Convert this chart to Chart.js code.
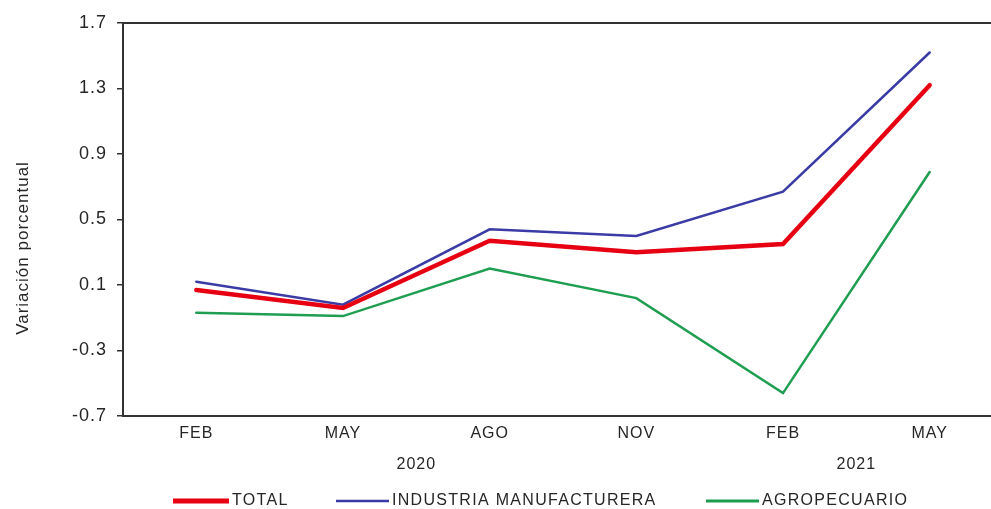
<!DOCTYPE html>
<html>
<head>
<meta charset="utf-8">
<script src="https://cdn.jsdelivr.net/npm/chart.js@4/dist/chart.umd.min.js"></script>
<style>
    html, body { margin: 0; padding: 0; background: #fff; overflow: hidden; }
    #wrap { width: 1010px; height: 509px; }
</style>
</head>
<body>
<div id="wrap"><canvas id="grafico" width="1010" height="509"></canvas></div>
<script>
const meses = ["FEB", "MAY", "AGO", "NOV", "FEB", "MAY"];
const anios = ["2020", "2021"];
const total = [0.07, -0.04, 0.37, 0.30, 0.35, 1.32];
const industria = [0.12, -0.02, 0.44, 0.40, 0.67, 1.52];
const agro = [-0.07, -0.09, 0.20, 0.02, -0.56, 0.79];

const ROJO = "#e60012";
const AZUL = "#3b3ba6";
const VERDE = "#1f9e52";
const TEXTO = "#262626";

// texto extra: titulo del eje, años y leyenda
const extras = {
    id: "extras",
    beforeDraw(chart) {
        chart.ctx.letterSpacing = "1px";
    },
    afterDraw(chart) {
        const ctx = chart.ctx;
        const area = chart.chartArea;
        const x = chart.scales.x;

        ctx.save();
        ctx.strokeStyle = "#333";
        ctx.lineWidth = 2;
        ctx.beginPath();
        ctx.moveTo(area.left, area.top);
        ctx.lineTo(area.right, area.top);
        ctx.stroke();

        ctx.fillStyle = TEXTO;
        ctx.font = "16px Arial, 'Liberation Sans'";
        ctx.textAlign = "center";
        ctx.textBaseline = "middle";
        const x2020 = (x.getPixelForTick(1) + x.getPixelForTick(2)) / 2;
        const x2021 = (x.getPixelForTick(4) + x.getPixelForTick(5)) / 2;
        ctx.fillText(anios[0], x2020, 465);
        ctx.fillText(anios[1], x2021, 465);

        // titulo eje y
        ctx.save();
        ctx.translate(23, 248);
        ctx.rotate(-Math.PI / 2);
        ctx.font = "17px Arial, 'Liberation Sans'";
        ctx.fillText("Variación porcentual", 0, 0);
        ctx.restore();

        // leyenda
        const items = [
            { t: "TOTAL", c: ROJO, w: 5, x0: 173, x1: 229 },
            { t: "INDUSTRIA MANUFACTURERA", c: AZUL, w: 2.5, x0: 336, x1: 389 },
            { t: "AGROPECUARIO", c: VERDE, w: 3, x0: 706, x1: 759 },
        ];
        ctx.textAlign = "left";
        ctx.font = "16px Arial, 'Liberation Sans'";
        ctx.letterSpacing = "1.3px";
        items.forEach((it) => {
            ctx.strokeStyle = it.c;
            ctx.lineWidth = it.w;
            ctx.beginPath();
            ctx.moveTo(it.x0, 501);
            ctx.lineTo(it.x1, 501);
            ctx.stroke();
            ctx.fillText(it.t, it.x1 + 3, 501);
        });
        ctx.restore();
    },
};

new Chart(document.getElementById("grafico"), {
    type: "line",
    data: {
        labels: meses,
        datasets: [
            { label: "TOTAL", data: total, borderColor: ROJO, borderWidth: 4.5 },
            { label: "INDUSTRIA MANUFACTURERA", data: industria, borderColor: AZUL, borderWidth: 2.5 },
            { label: "AGROPECUARIO", data: agro, borderColor: VERDE, borderWidth: 2.5 },
        ],
    },
    options: {
        responsive: false,
        animation: false,
        elements: { point: { radius: 0 }, line: { tension: 0, borderCapStyle: "round" } },
        layout: { padding: { top: 23, right: 7, left: 0, bottom: 0 } },
        plugins: { legend: { display: false }, tooltip: { enabled: false } },
        scales: {
            x: {
                offset: true,
                grid: { display: false, drawTicks: false },
                border: { display: true, color: "#333", width: 2 },
                ticks: { color: TEXTO, font: { size: 16, family: "Arial, 'Liberation Sans'" }, padding: 8, maxRotation: 0 },
                afterFit(scale) { scale.height = 93; },
            },
            y: {
                min: -0.7,
                max: 1.7,
                grid: { drawOnChartArea: false, drawTicks: true, tickLength: 6, color: "#333", lineWidth: 1.5 },
                border: { display: true, color: "#333", width: 2 },
                ticks: {
                    stepSize: 0.4,
                    color: TEXTO,
                    padding: 10,
                    font: { size: 18, family: "Arial, 'Liberation Sans'" },
                    callback: (v) => Number(v).toFixed(1),
                },
                afterFit(scale) { scale.width = 123; },
            },
        },
    },
    plugins: [extras],
});
</script>
</body>
</html>
